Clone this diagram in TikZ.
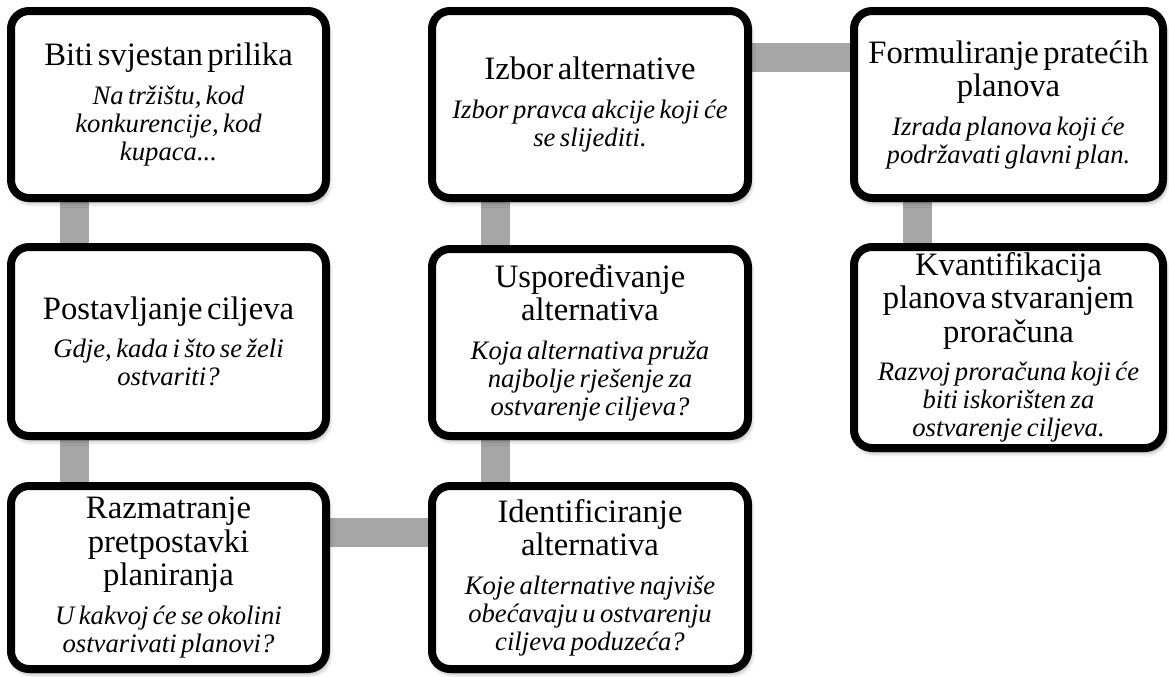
\documentclass[tikz,border=0pt]{standalone}
\usepackage{fontspec}
\setmainfont{Liberation Serif}
\usepackage{tikz}
\usetikzlibrary{positioning,backgrounds,shadows.blur}
\newlength\upx
\setlength\upx{0.75pt}
\definecolor{linkgray}{RGB}{166,166,166}
\newcommand\steptitle[1]{{\fontsize{24.5}{25}\selectfont #1\par}}
\newcommand\stepnote[1]{{\vspace{8pt}\fontsize{20}{21}\selectfont\itshape #1\par}}
\tikzset{
    stepbox/.style={draw=black, fill=white, line width=8\upx, rounded corners=18\upx,
        minimum width=315\upx, minimum height=187\upx, text width=296\upx, align=center, inner sep=3\upx,
        blur shadow={shadow xshift=2\upx, shadow yshift=-4\upx, shadow blur radius=5\upx, shadow opacity=45}},
    link/.style={draw=linkgray, line width=29\upx},
}
\begin{document}
\begin{tikzpicture}
    \useasboundingbox (0,0) rectangle (1169\upx,-676\upx);
    \node[stepbox] (b1) at (168.5\upx,-104.5\upx) {\steptitle{Biti svjestan prilika}\stepnote{Na tržištu, kod\\ konkurencije, kod\\ kupaca...}};
    \node[stepbox, minimum height=189\upx, below=41\upx of b1] (b2) {\steptitle{Postavljanje ciljeva}\stepnote{Gdje, kada i što se želi\\ ostvariti?}};
    \node[stepbox, minimum height=183\upx, below=42\upx of b2] (b3) {\steptitle{Razmatranje\\ pretpostavki\\ planiranja}\stepnote{U kakvoj će se okolini\\ ostvarivati planovi?}};
    \node[stepbox, minimum width=316\upx, right=98\upx of b1] (b4) {\steptitle{Izbor alternative}\stepnote{Izbor pravca akcije koji će\\ se slijediti.}};
    \node[stepbox, minimum width=316\upx, below=43\upx of b4] (b5) {\steptitle{Uspoređivanje\\ alternativa}\stepnote{Koja alternativa pruža\\ najbolje rješenje za\\ ostvarenje ciljeva?}};
    \node[stepbox, minimum width=316\upx, minimum height=183\upx, below=42\upx of b5] (b6) {\steptitle{Identificiranje\\ alternativa}\stepnote{Koje alternative najviše\\ obećavaju u ostvarenju\\ ciljeva poduzeća?}};
    \node[stepbox, minimum width=309\upx, right=98\upx of b4] (b7) {\steptitle{Formuliranje pratećih\\ planova}\stepnote{Izrada planova koji će\\ podržavati glavni plan.}};
    \node[stepbox, minimum width=309\upx, minimum height=201\upx, below=41\upx of b7] (b8) {\steptitle{Kvantifikacija\\ planova stvaranjem\\ proračuna}\stepnote{Razvoj proračuna koji će\\ biti iskorišten za\\ ostvarenje ciljeva.}};

    % gray bars behind the boxes
    \begin{scope}[on background layer]
        \draw[link] ([xshift=67\upx]b1.south west) -- ([xshift=67\upx]b2.north west)
            ([xshift=67\upx]b2.south west) -- ([xshift=67\upx]b3.north west)
            ([yshift=-50\upx]b3.north east) -- ([yshift=-50\upx]b6.north west)
            ([xshift=67\upx]b6.north west) -- ([xshift=67\upx]b5.south west)
            ([xshift=67\upx]b5.north west) -- ([xshift=67\upx]b4.south west)
            ([yshift=-50\upx]b4.north east) -- ([yshift=-50\upx]b7.north west)
            ([xshift=67\upx]b7.south west) -- ([xshift=67\upx]b8.north west);
    \end{scope}
\end{tikzpicture}
\end{document}
